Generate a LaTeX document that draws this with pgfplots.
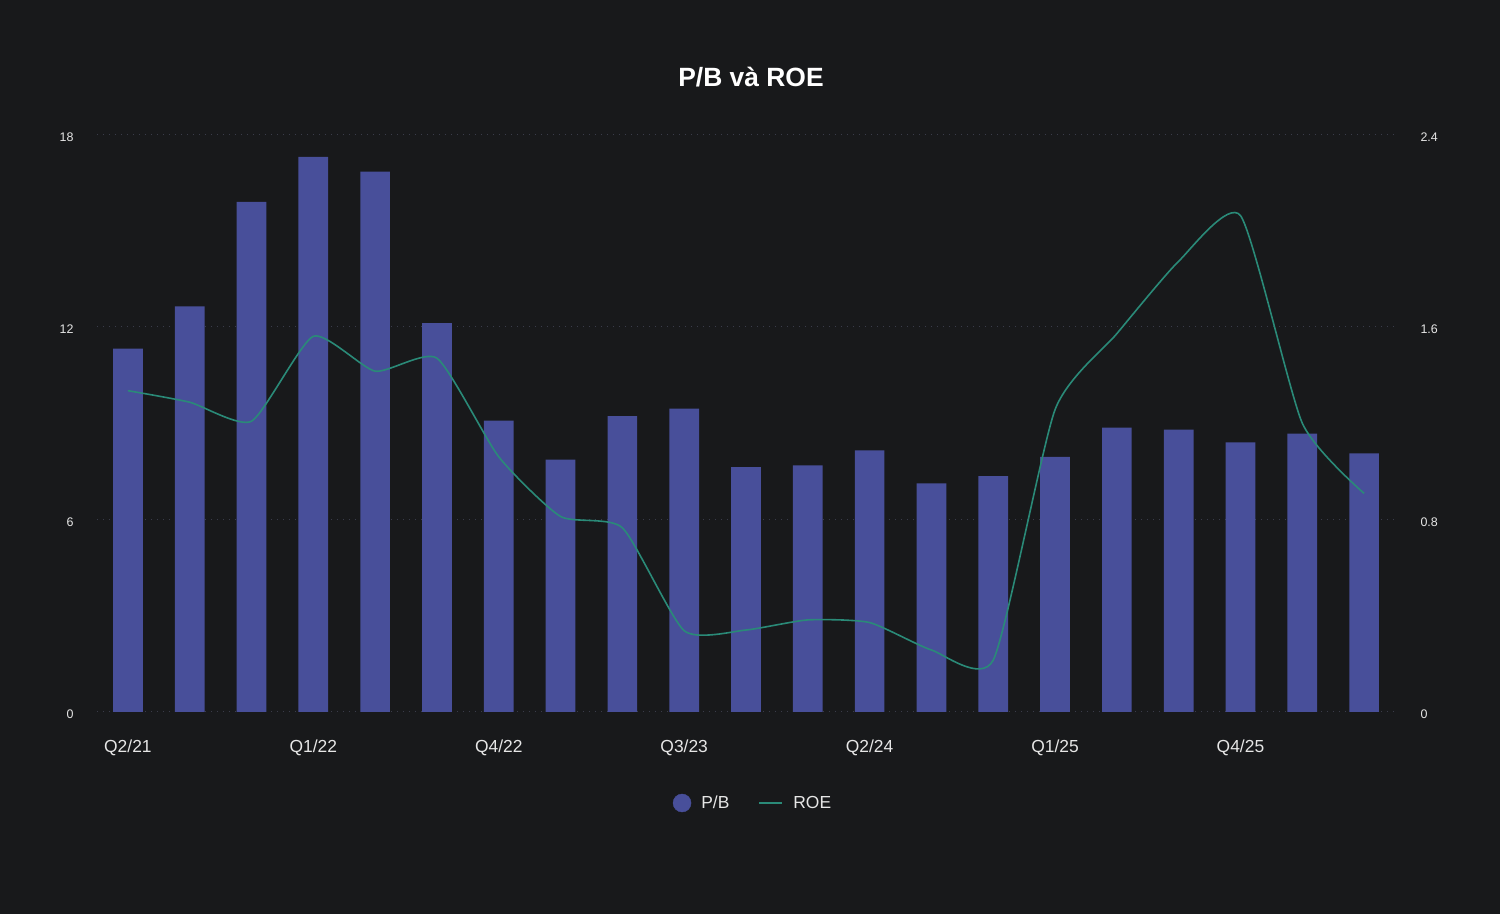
\documentclass[border=0pt]{standalone}
\usepackage{pgfplots}
\usepackage{pgfplotstable}
\pgfplotsset{compat=1.18}
\usepackage{fontspec}
\setmainfont{Liberation Sans}
\definecolor{bg}{HTML}{18191B}
\definecolor{barc}{HTML}{484F9A}
\definecolor{roec}{HTML}{2A8A78}
\definecolor{gridc}{HTML}{3A3C4A}
\definecolor{txt}{HTML}{E6E6E6}

\pgfplotstableread{
x pb roe
0 11.32 1.335
1 12.64 1.287
2 15.90 1.208
3 17.30 1.561
4 16.84 1.416
5 12.12 1.470
6 9.08 1.06
7 7.86 0.812
8 9.22 0.765
9 9.45 0.337
10 7.63 0.340
11 7.68 0.382
12 8.15 0.371
13 7.12 0.257
14 7.35 0.215
15 7.95 1.256
16 8.86 1.572
17 8.80 1.873
18 8.40 2.063
19 8.67 1.20
20 8.06 0.908
}\data

\begin{document}
\begin{tikzpicture}
\fill[bg] (0bp,0bp) rectangle (1500bp,914bp);
\node[font=\bfseries\fontsize{26.5}{30}\selectfont, text=white, inner sep=0] at (751bp,837bp) {P/B và ROE};
\begin{axis}[
  at={(97bp,202.2bp)}, anchor=south west,
  scale only axis, width=1298bp, height=577.3bp,
  xmin=-0.5, xmax=20.5, ymin=0, ymax=18,
  ytick={0,6,12,18},
  xtick={0,3,...,18},
  xticklabels={Q2/21,Q1/22,Q4/22,Q3/23,Q2/24,Q1/25,Q4/25},
  axis line style={draw=none},
  major tick length=0pt,
  ymajorgrids,
  grid style={gridc, line width=1bp, dash pattern=on 1.2bp off 4.8bp},
  /pgf/number format/assume math mode=true,
  yticklabel style={font=\fontsize{12.5}{14}\selectfont, text=txt, anchor=east, xshift=-20bp, yshift=-2.5bp},
  xticklabel style={font=\fontsize{17.5}{20}\selectfont, text=txt, anchor=center, yshift=-36bp},
  clip=false,
]
\addplot[ybar, bar width=29.7bp, fill=barc, draw=none] table[x=x,y=pb]{\data};
\end{axis}
\begin{axis}[
  at={(97bp,202.2bp)}, anchor=south west,
  scale only axis, width=1298bp, height=577.3bp,
  xmin=-0.5, xmax=20.5, ymin=0, ymax=2.4,
  ytick={0,0.8,1.6,2.4},
  axis y line*=right,
  axis x line=none,
  axis line style={draw=none},
  major tick length=0pt,
  /pgf/number format/assume math mode=true,
  /pgf/number format/fixed, /pgf/number format/precision=1,
  yticklabel style={font=\fontsize{12.5}{14}\selectfont, text=txt, anchor=west, xshift=22bp, yshift=-2.5bp},
  legend style={at={(0.5054,-0.158)}, anchor=center, draw=none, fill=none, text=txt,
    font=\fontsize{17.5}{20}\selectfont, legend columns=2,
    /tikz/every odd column/.append style={column sep=8bp},
    /tikz/every even column/.append style={column sep=27bp}},
  legend cell align=left,
  clip=false,
]
\addlegendimage{legend image code/.code={\fill[barc] (4bp,0bp) circle (9bp);}}
\addlegendentry{P/B}
\addplot[roec, line width=1.6bp, smooth, tension=0.35, mark=none,
  legend image code/.code={\draw[roec, line width=2bp] (0bp,0bp) -- (23bp,0bp);}]
  table[x=x,y=roe]{\data};
\addlegendentry{ROE}
\end{axis}
\end{tikzpicture}
\end{document}
